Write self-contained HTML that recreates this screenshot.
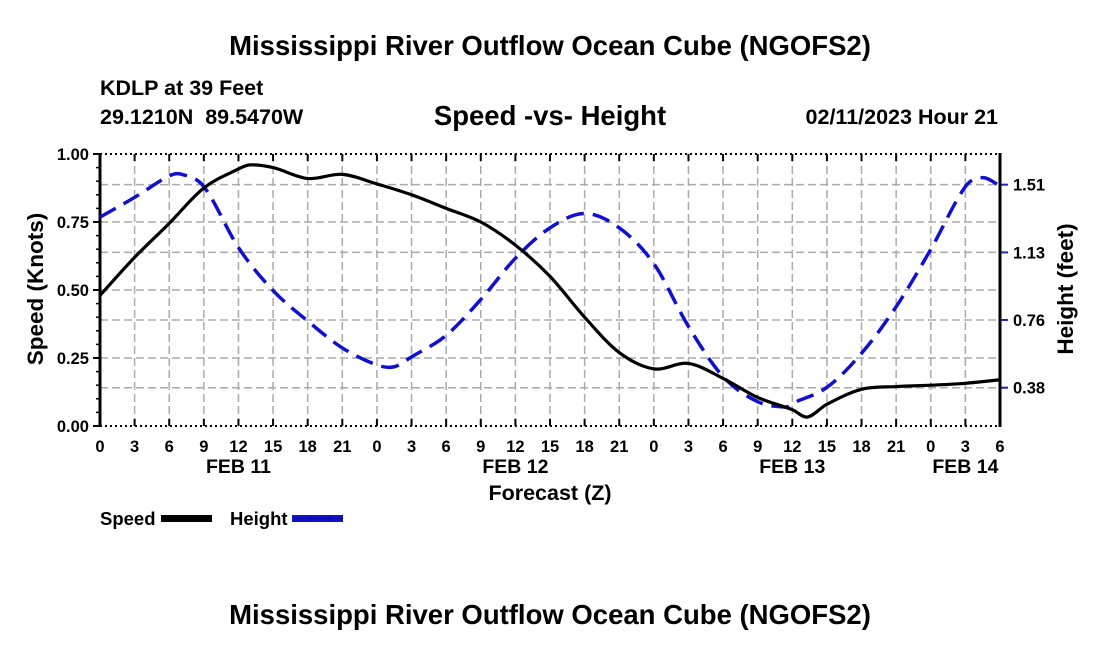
<!DOCTYPE html>
<html><head><meta charset="utf-8"><style>
body{margin:0;background:#fff}
svg{display:block;font-family:"Liberation Sans",Arial,sans-serif;font-weight:bold}
</style></head><body>
<svg id="chart" width="1100" height="650" viewBox="0 0 1100 650">
<text x="550" y="55" text-anchor="middle" font-size="27.5">Mississippi River Outflow Ocean Cube (NGOFS2)</text>
<text x="100" y="95" font-size="21.5">KDLP at 39 Feet</text>
<text x="100" y="124" font-size="21.5" xml:space="preserve">29.1210N  89.5470W</text>
<text x="550" y="125" text-anchor="middle" font-size="27.5">Speed -vs- Height</text>
<text x="998" y="124" text-anchor="end" font-size="21.5">02/11/2023 Hour 21</text>
<text transform="translate(43,289) rotate(-90)" text-anchor="middle" font-size="22.5">Speed (Knots)</text>
<text transform="translate(1073,289) rotate(-90)" text-anchor="middle" font-size="22.5">Height (feet)</text>
<text x="550" y="500" text-anchor="middle" font-size="21.5">Forecast (Z)</text>
<g>
<text x="100" y="525" font-size="18.5">Speed</text>
<rect x="161" y="515" width="51" height="7" fill="#000"/>
<text x="230" y="525" font-size="18.5">Height</text>
<rect x="292" y="515" width="51" height="7" fill="#1010d0"/>
<line x1="294" y1="518.5" x2="343" y2="518.5" stroke="#000060" stroke-width="1" stroke-dasharray="10,4" opacity="0.5"/>
</g>
<text x="550" y="624" text-anchor="middle" font-size="27.5">Mississippi River Outflow Ocean Cube (NGOFS2)</text>
<g id="grid"></g><g id="axes"></g><g id="series"></g>
</svg>
<script>
const speedHours=[0,3,6,9,12,13,15,18,21,24,27,30,33,36,39,42,45,48,51,54,57,60,61.3,63,66,69,72,75,78];
const speedValues=[0.48,0.62,0.745,0.875,0.945,0.96,0.95,0.91,0.925,0.89,0.85,0.80,0.75,0.665,0.55,0.40,0.27,0.21,0.23,0.175,0.105,0.06,0.033,0.08,0.135,0.145,0.15,0.157,0.17];
const heightHours=[0,3,6,7,9,12,15,18,21,24,25.5,27,30,33,36,39,42,45,48,51,54,57,59.5,60,63,66,69,72,75,76.5,78];
const heightValues=[1.33,1.44,1.56,1.57,1.50,1.16,0.92,0.75,0.60,0.505,0.495,0.55,0.67,0.87,1.10,1.27,1.35,1.27,1.07,0.72,0.44,0.30,0.27,0.29,0.38,0.57,0.83,1.15,1.50,1.55,1.505];
const xTickLabels=["0","3","6","9","12","15","18","21","0","3","6","9","12","15","18","21","0","3","6","9","12","15","18","21","0","3","6"];
const dateLabels=["FEB 11","FEB 12","FEB 13","FEB 14"];
const dateHours=[12,36,60,75];
const speedTicks=[0,0.25,0.5,0.75,1.0];
const heightTicks=[0.378,0.756,1.133,1.511];

const L=100,R=1000,T=154,B=426,HMAX=78;
const xS=h=>L+(h/HMAX)*(R-L);
const yS=v=>B-v*(B-T);
const yH=f=>387.7-(f-0.378)*179.2;
const NS="http://www.w3.org/2000/svg";
function mk(tag,attrs,parent){const e=document.createElementNS(NS,tag);for(const k in attrs)e.setAttribute(k,attrs[k]);parent.appendChild(e);return e;}
const grid=document.getElementById('grid'),axes=document.getElementById('axes'),series=document.getElementById('series');

for(let i=0;i<xTickLabels.length;i++){
  const x=xS(i*3);
  if(i>0&&i<xTickLabels.length-1){const g=mk('line',{x1:x,y1:T,x2:x,y2:B,stroke:'#aaa','stroke-width':1.5,'stroke-dasharray':'8,4'},grid);
  
  }
  mk('line',{x1:x,y1:T,x2:x,y2:T+7,stroke:'#000','stroke-width':2},axes);
  mk('line',{x1:x,y1:B,x2:x,y2:B-7,stroke:'#000','stroke-width':2},axes);
  const t=mk('text',{x:x,y:452,'text-anchor':'middle','font-size':16.5},axes);t.textContent=xTickLabels[i];
  
  
}
speedTicks.forEach(v=>{
  const y=yS(v);
  if(v>0&&v<1){const g=mk('line',{x1:L,y1:y,x2:R,y2:y,stroke:'#aaa','stroke-width':1.5,'stroke-dasharray':'8,4'},grid);
  
  }
  mk('line',{x1:L-7,y1:y,x2:L,y2:y,stroke:'#000','stroke-width':2},axes);
  const t=mk('text',{x:L-11,y:y+6,'text-anchor':'end','font-size':16.5},axes);t.textContent=v.toFixed(2);
  
  
});
for(let v=0.05;v<1;v+=0.05){const y=yS(v);mk('line',{x1:L-4,y1:y,x2:L,y2:y,stroke:'#000','stroke-width':1.5},axes);}
heightTicks.forEach(f=>{
  const y=yH(f);
  const g=mk('line',{x1:L,y1:y,x2:R,y2:y,stroke:'#aaa','stroke-width':1.5,'stroke-dasharray':'8,4'},grid);
  
  
  mk('line',{x1:R,y1:y,x2:R+8,y2:y,stroke:'#2020c0','stroke-width':2},axes);
  const t=mk('text',{x:R+13,y:y+6,'font-size':16.5},axes);t.textContent=f.toFixed(2);
  
  
});
mk('line',{x1:L,y1:T,x2:R,y2:T,stroke:'#000','stroke-width':2,'stroke-dasharray':'2,3'},axes);
mk('line',{x1:L,y1:B,x2:R,y2:B,stroke:'#000','stroke-width':2,'stroke-dasharray':'2,3'},axes);
mk('line',{x1:L,y1:T-1,x2:L,y2:B+1,stroke:'#000','stroke-width':3},axes);
mk('line',{x1:R,y1:T-1,x2:R,y2:B+1,stroke:'#000','stroke-width':3},axes);
dateLabels.forEach((d,i)=>{const t=mk('text',{x:xS(dateHours[i]),y:473,'text-anchor':'middle','font-size':19.5},axes);t.textContent=d;
  
  });

function smooth(pts){
  let d=`M${pts[0][0]},${pts[0][1]}`;
  for(let i=0;i<pts.length-1;i++){
    const p0=pts[Math.max(i-1,0)],p1=pts[i],p2=pts[i+1],p3=pts[Math.min(i+2,pts.length-1)];
    const t1=(p2[0]-p1[0])/3;
    const s1=(p2[1]-p0[1])/(p2[0]-p0[0]||1),s2=(p3[1]-p1[1])/(p3[0]-p1[0]||1);
    d+=` C${p1[0]+t1},${p1[1]+s1*t1} ${p2[0]-t1},${p2[1]-s2*t1} ${p2[0]},${p2[1]}`;
  }
  return d;
}
const hp=mk('path',{d:smooth(heightHours.map((h,i)=>[xS(h),yH(heightValues[i])])),fill:'none',stroke:'#1010d0','stroke-width':3.5,'stroke-dasharray':'18,9'},series);


const sp=mk('path',{d:smooth(speedHours.map((h,i)=>[xS(h),yS(speedValues[i])])),fill:'none',stroke:'#000','stroke-width':3.2},series);


</script>
</body></html>
